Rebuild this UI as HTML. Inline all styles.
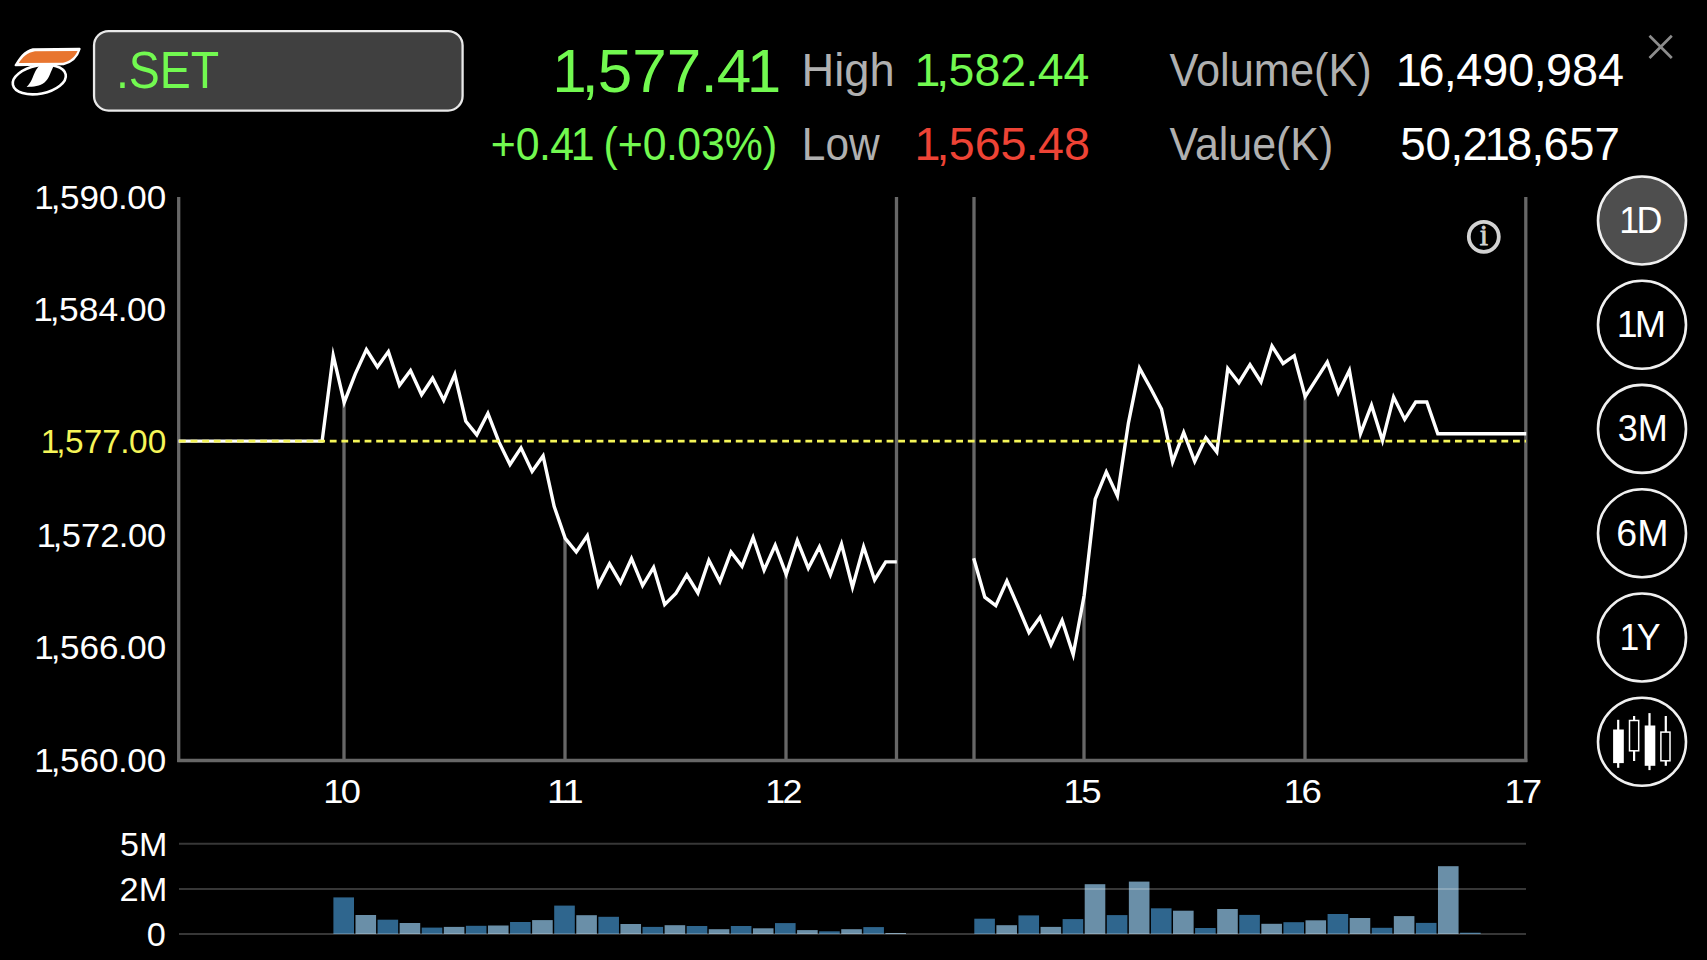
<!DOCTYPE html>
<html lang="en"><head><meta charset="utf-8"><title>.SET intraday chart</title>
<style>
html,body{margin:0;padding:0;background:#000;overflow:hidden}
body{width:1707px;height:960px;position:relative;font-family:"Liberation Sans",sans-serif}
svg{position:absolute;left:0;top:0;display:block}
text{font-family:"Liberation Sans",sans-serif}
text.serif{font-family:"Liberation Serif",serif}
</style></head><body>
<svg width="1707" height="960" viewBox="0 0 1707 960">
<rect width="1707" height="960" fill="#000"/>
<g id="logo">
<ellipse cx="39.3" cy="79.6" rx="26.9" ry="14.1" transform="rotate(-11 39.3 79.6)" fill="#000" stroke="#fff" stroke-width="2.6"/>
<path d="M40.2,65 L54.2,65 C50.5,71.5 49.5,78.5 44.5,82.5 C40,86 33.5,86.8 26.6,86.9 C31.5,82.5 32.8,76.5 35,72 C36.3,69.3 38,67 40.2,65 Z" fill="#fff"/>
<path d="M15.6,65.2 C20,58 24,51.5 33,49.2 L79.6,48.9 C77.5,56 72,62 63.5,64.2 Z" fill="#fff" stroke="#fff" stroke-width="2.1" stroke-linejoin="round"/>
<path d="M18.8,63.0 C22.5,57.3 27,52.6 35,51.3 L77.6,51.1 C75.1,56.7 70.6,61.2 63,62.8 Z" fill="#e8752f"/>
</g>
<rect x="94.05" y="31.05" width="368.55" height="79.5" rx="14.5" ry="14.5" fill="#404040" stroke="#e9e9e9" stroke-width="2.3"/>
<path d="M1649.5,35.8 L1671.8,58 M1671.8,35.8 L1649.5,58" stroke="#8c8c8c" stroke-width="2.7" fill="none"/>
<g id="bars">
<rect x="333.40" y="897.4" width="20.6" height="36.6" fill="#2f668e"/>
<rect x="355.48" y="915.0" width="20.6" height="19.0" fill="#6a8fa8"/>
<rect x="377.56" y="919.7" width="20.6" height="14.3" fill="#2f668e"/>
<rect x="399.64" y="923.0" width="20.6" height="11.0" fill="#6a8fa8"/>
<rect x="421.72" y="927.6" width="20.6" height="6.4" fill="#2f668e"/>
<rect x="443.80" y="926.9" width="20.6" height="7.1" fill="#6a8fa8"/>
<rect x="465.88" y="925.8" width="20.6" height="8.2" fill="#2f668e"/>
<rect x="487.96" y="925.5" width="20.6" height="8.5" fill="#6a8fa8"/>
<rect x="510.04" y="922.0" width="20.6" height="12.0" fill="#2f668e"/>
<rect x="532.12" y="920.1" width="20.6" height="13.9" fill="#6a8fa8"/>
<rect x="554.20" y="905.6" width="20.6" height="28.4" fill="#2f668e"/>
<rect x="576.28" y="915.2" width="20.6" height="18.8" fill="#6a8fa8"/>
<rect x="598.36" y="916.8" width="20.6" height="17.2" fill="#2f668e"/>
<rect x="620.44" y="924.0" width="20.6" height="10.0" fill="#6a8fa8"/>
<rect x="642.52" y="926.9" width="20.6" height="7.1" fill="#2f668e"/>
<rect x="664.60" y="925.2" width="20.6" height="8.8" fill="#6a8fa8"/>
<rect x="686.68" y="926.0" width="20.6" height="8.0" fill="#2f668e"/>
<rect x="708.76" y="929.2" width="20.6" height="4.8" fill="#6a8fa8"/>
<rect x="730.84" y="926.0" width="20.6" height="8.0" fill="#2f668e"/>
<rect x="752.92" y="928.3" width="20.6" height="5.7" fill="#6a8fa8"/>
<rect x="775.00" y="923.1" width="20.6" height="10.9" fill="#2f668e"/>
<rect x="797.08" y="930.1" width="20.6" height="3.9" fill="#6a8fa8"/>
<rect x="819.16" y="931.3" width="20.6" height="2.7" fill="#2f668e"/>
<rect x="841.24" y="929.2" width="20.6" height="4.8" fill="#6a8fa8"/>
<rect x="863.32" y="927.1" width="20.6" height="6.9" fill="#2f668e"/>
<rect x="885.40" y="933.0" width="20.6" height="1.0" fill="#6a8fa8"/>
<rect x="974.30" y="918.7" width="20.6" height="15.3" fill="#2f668e"/>
<rect x="996.38" y="925.2" width="20.6" height="8.8" fill="#6a8fa8"/>
<rect x="1018.46" y="915.4" width="20.6" height="18.6" fill="#2f668e"/>
<rect x="1040.54" y="926.9" width="20.6" height="7.1" fill="#6a8fa8"/>
<rect x="1062.62" y="919.1" width="20.6" height="14.9" fill="#2f668e"/>
<rect x="1084.70" y="884.2" width="20.6" height="49.8" fill="#6a8fa8"/>
<rect x="1106.78" y="915.1" width="20.6" height="18.9" fill="#2f668e"/>
<rect x="1128.86" y="881.6" width="20.6" height="52.4" fill="#6a8fa8"/>
<rect x="1150.94" y="908.3" width="20.6" height="25.7" fill="#2f668e"/>
<rect x="1173.02" y="910.7" width="20.6" height="23.3" fill="#6a8fa8"/>
<rect x="1195.10" y="928.0" width="20.6" height="6.0" fill="#2f668e"/>
<rect x="1217.18" y="909.0" width="20.6" height="25.0" fill="#6a8fa8"/>
<rect x="1239.26" y="914.9" width="20.6" height="19.1" fill="#2f668e"/>
<rect x="1261.34" y="923.8" width="20.6" height="10.2" fill="#6a8fa8"/>
<rect x="1283.42" y="922.2" width="20.6" height="11.8" fill="#2f668e"/>
<rect x="1305.50" y="920.3" width="20.6" height="13.7" fill="#6a8fa8"/>
<rect x="1327.58" y="914.0" width="20.6" height="20.0" fill="#2f668e"/>
<rect x="1349.66" y="918.0" width="20.6" height="16.0" fill="#6a8fa8"/>
<rect x="1371.74" y="927.8" width="20.6" height="6.2" fill="#2f668e"/>
<rect x="1393.82" y="916.1" width="20.6" height="17.9" fill="#6a8fa8"/>
<rect x="1415.90" y="922.9" width="20.6" height="11.1" fill="#2f668e"/>
<rect x="1437.98" y="866.2" width="20.6" height="67.8" fill="#6a8fa8"/>
<rect x="1460.06" y="932.7" width="20.6" height="1.3" fill="#2f668e"/>
</g>
<line x1="179" y1="843.8" x2="1526" y2="843.8" stroke="#fff" stroke-opacity="0.215" stroke-width="2"/>
<line x1="179" y1="889.0" x2="1526" y2="889.0" stroke="#fff" stroke-opacity="0.215" stroke-width="2"/>
<line x1="179" y1="934.0" x2="1526" y2="934.0" stroke="#fff" stroke-opacity="0.215" stroke-width="2"/>
<g stroke="#676767" stroke-width="3.3" fill="none">
<line x1="178.7" y1="197.0" x2="178.7" y2="762"/>
<line x1="177.2" y1="760.5" x2="1527.3" y2="760.5"/>
<line x1="1525.8" y1="197.0" x2="1525.8" y2="762"/>
<line x1="896.5" y1="197.0" x2="896.5" y2="760"/>
<line x1="974.0" y1="197.0" x2="974.0" y2="760"/>
<line x1="344.0" y1="401.3" x2="344.0" y2="760"/>
<line x1="565.0" y1="537.7" x2="565.0" y2="760"/>
<line x1="786.0" y1="573.8" x2="786.0" y2="760"/>
<line x1="1084.0" y1="596.4" x2="1084.0" y2="760"/>
<line x1="1305.0" y1="395.8" x2="1305.0" y2="760"/>
</g>
<polyline points="178.5,441.1 189.6,441.1 200.6,441.1 211.7,441.1 222.7,441.1 233.8,441.1 244.8,441.1 255.8,441.1 266.9,441.1 277.9,441.1 289.0,441.1 300.1,441.1 311.1,441.1 322.1,441.1 333.2,355.4 344.2,402.4 355.3,373.9 366.4,349.6 377.4,367.0 388.4,351.6 399.5,385.3 410.5,370.5 421.6,394.8 432.6,378.2 443.7,400.2 454.8,374.5 465.8,421.2 476.8,434.9 487.9,413.3 498.9,441.9 510.0,464.5 521.0,447.9 532.1,471.5 543.1,455.9 554.2,506.5 565.2,538.4 576.3,552.0 587.3,535.7 598.4,585.1 609.5,563.7 620.5,582.6 631.5,558.5 642.6,585.6 653.6,567.4 664.7,604.6 675.8,593.5 686.8,574.8 697.9,592.9 708.9,560.3 719.9,581.5 731.0,552.0 742.0,566.3 753.1,537.5 764.1,570.1 775.2,545.3 786.2,574.4 797.3,540.6 808.3,568.2 819.4,546.9 830.4,574.7 841.5,544.0 852.5,587.2 863.6,546.8 874.6,580.0 885.7,561.9 896.8,561.9" fill="none" stroke="#fff" stroke-width="3.4" stroke-linejoin="miter" stroke-miterlimit="12"/>
<polyline points="973.7,558.3 984.8,597.2 995.8,605.7 1006.9,580.9 1017.9,606.3 1029.0,632.5 1040.0,617.3 1051.0,644.8 1062.1,620.5 1073.2,654.6 1084.2,595.3 1095.2,499.2 1106.3,471.9 1117.4,495.9 1128.4,423.1 1139.5,368.2 1150.5,388.0 1161.5,409.0 1172.6,461.9 1183.7,432.5 1194.7,461.3 1205.8,437.7 1216.8,451.9 1227.8,368.5 1238.9,382.7 1250.0,364.6 1261.0,381.9 1272.0,346.0 1283.1,363.5 1294.2,355.7 1305.2,396.6 1316.2,379.4 1327.3,362.0 1338.3,392.9 1349.4,370.5 1360.5,433.6 1371.5,405.2 1382.5,440.6 1393.6,397.0 1404.7,419.4 1415.7,402.0 1426.8,402.0 1437.8,433.7 1448.8,433.7 1459.9,433.7 1471.0,433.7 1482.0,433.7 1493.1,433.7 1504.1,433.7 1515.2,433.7 1526.2,433.7" fill="none" stroke="#fff" stroke-width="3.4" stroke-linejoin="miter" stroke-miterlimit="12"/>
<line x1="179" y1="441.1" x2="1526" y2="441.1" stroke="#f5f558" stroke-width="2.6" stroke-dasharray="6.8 4.8"/>
<circle cx="1483.8" cy="236.8" r="15" fill="none" stroke="#d2d2d2" stroke-width="3.8"/>
<text class="serif" x="1483.8" y="245.3" font-size="29.5" text-anchor="middle" fill="#d2d2d2" stroke="#d2d2d2" stroke-width="0.8">i</text>
<circle cx="1642" cy="220.5" r="44" fill="#4e4e4e" stroke="#f0f0f0" stroke-width="2.6"/>
<circle cx="1642" cy="324.7" r="44" fill="#000" stroke="#f0f0f0" stroke-width="2.6"/>
<circle cx="1642" cy="428.9" r="44" fill="#000" stroke="#f0f0f0" stroke-width="2.6"/>
<circle cx="1642" cy="533.2" r="44" fill="#000" stroke="#f0f0f0" stroke-width="2.6"/>
<circle cx="1642" cy="637.5" r="44" fill="#000" stroke="#f0f0f0" stroke-width="2.6"/>
<circle cx="1642" cy="741.8" r="44" fill="#000" stroke="#f0f0f0" stroke-width="2.6"/>
<g id="candles" fill="#fff" stroke="none">
<rect x="1617.1" y="719.8" width="2.2" height="48"/><rect x="1613.1" y="729.5" width="10.7" height="33.6"/>
<rect x="1633" y="716" width="2.2" height="4.5"/><rect x="1633" y="751" width="2.2" height="10"/>
<rect x="1648.4" y="713.1" width="2.2" height="57"/><rect x="1644.7" y="725.5" width="10.6" height="40.3"/>
<rect x="1664.7" y="716" width="2.2" height="16"/><rect x="1664.7" y="761" width="2.2" height="4.8"/>
</g>
<rect x="1629.5" y="720.5" width="9.2" height="30.3" fill="none" stroke="#fff" stroke-width="1.5"/>
<rect x="1660.9" y="732.1" width="9.1" height="28.7" fill="none" stroke="#fff" stroke-width="1.5"/>
<text id="t_set" transform="translate(115.96,88.4) scale(0.8982,1)" font-size="51.75" fill="#72f950">.SET</text>
<text id="t_big" transform="translate(556.85,92.0) scale(1.0032,1)" x="-4.51 24.49 40.79 75.19 109.59 143.09 159.39 189.28" font-size="61.85" fill="#72f950">1,577.41</text>
<text id="t_chg" transform="translate(490.71,160.2) scale(0.9381,1)" x="0.0 26.65 51.38 63.4 85.46 107.52 120.2 135.4 162.05 186.78 198.81 224.19 249.57 290.16" font-size="45.64" fill="#72f950">+0.41 (+0.03%)</text>
<text id="t_high" transform="translate(801.58,86.25) scale(0.9925,1)" font-size="45.64" fill="#b0b0b0">High</text>
<text id="t_low" transform="translate(801.82,160.2) scale(0.9302,1)" font-size="45.64" fill="#b0b0b0">Low</text>
<text id="t_highv" transform="translate(917.94,86.25) scale(1.0186,1)" x="-3.32 18.08 30.1 55.49 80.87 105.6 117.62 143.01" font-size="45.64" fill="#72f950">1,582.44</text>
<text id="t_lowv" transform="translate(917.93,160.2) scale(1.0220,1)" x="-3.32 18.08 30.1 55.49 80.87 105.6 117.62 143.01" font-size="45.64" fill="#ee4335">1,565.48</text>
<text id="t_vol" transform="translate(1169.51,86.25) scale(0.9494,1)" font-size="45.64" fill="#b0b0b0">Volume(K)</text>
<text id="t_val" transform="translate(1169.51,160.2) scale(0.9402,1)" font-size="45.64" fill="#b0b0b0">Value(K)</text>
<text id="t_volv" transform="translate(1399.22,86.25) scale(1.0264,1)" x="-3.32 18.73 43.46 55.49 80.87 106.25 130.98 143.01 168.39 193.78" font-size="45.64" fill="#fff">16,490,984</text>
<text id="t_valv" transform="translate(1400.17,160.2) scale(1.0026,1)" x="0.0 25.39 50.11 62.14 84.2 106.25 130.98 143.01 168.39 193.78" font-size="45.64" fill="#fff">50,218,657</text>
<text id="t_y590" transform="translate(36.82,208.85) scale(1.0427,1)" x="-2.45 13.33 22.19 40.91 59.62 77.85 86.72 105.43" font-size="33.65" fill="#fff">1,590.00</text>
<text id="t_y584" transform="translate(35.81,321.45) scale(1.0510,1)" x="-2.45 13.33 22.19 40.91 59.62 77.85 86.72 105.43" font-size="33.65" fill="#fff">1,584.00</text>
<text id="t_y577" transform="translate(43.11,452.75) scale(0.9915,1)" x="-2.45 13.33 22.19 40.91 59.62 77.85 86.72 105.43" font-size="33.65" fill="#f5f558">1,577.00</text>
<text id="t_y572" transform="translate(39.15,546.65) scale(1.0237,1)" x="-2.45 13.33 22.19 40.91 59.62 77.85 86.72 105.43" font-size="33.65" fill="#fff">1,572.00</text>
<text id="t_y566" transform="translate(36.92,659.25) scale(1.0419,1)" x="-2.45 13.33 22.19 40.91 59.62 77.85 86.72 105.43" font-size="33.65" fill="#fff">1,566.00</text>
<text id="t_y560" transform="translate(36.92,771.85) scale(1.0419,1)" x="-2.45 13.33 22.19 40.91 59.62 77.85 86.72 105.43" font-size="33.65" fill="#fff">1,560.00</text>
<text id="t_x10" transform="translate(325.86,803.0) scale(1.0778,1)" x="-2.45 13.81" font-size="33.65" fill="#fff">10</text>
<text id="t_x11" transform="translate(549.67,803.0) scale(1.1310,1)" x="-2.45 11.36" font-size="33.65" fill="#fff">11</text>
<text id="t_x12" transform="translate(767.78,803.0) scale(1.0677,1)" x="-2.45 13.81" font-size="33.65" fill="#fff">12</text>
<text id="t_x15" transform="translate(1066.14,803.0) scale(1.0882,1)" x="-2.45 13.81" font-size="33.65" fill="#fff">15</text>
<text id="t_x16" transform="translate(1286.44,803.0) scale(1.0872,1)" x="-2.45 13.81" font-size="33.65" fill="#fff">16</text>
<text id="t_x17" transform="translate(1507.17,803.0) scale(1.0712,1)" x="-2.45 13.81" font-size="33.65" fill="#fff">17</text>
<text id="t_v5" transform="translate(119.93,855.9) scale(1.0111,1)" x="0.0 18.76" font-size="33.72" fill="#fff">5M</text>
<text id="t_v2" transform="translate(119.57,900.9) scale(1.0193,1)" x="0.0 18.76" font-size="33.72" fill="#fff">2M</text>
<text id="t_v0" transform="translate(146.66,945.9) scale(1.0174,1)" x="0.0" font-size="33.72" fill="#fff">0</text>
<text id="t_b1D" transform="translate(1621.78,232.9) scale(0.9873,1)" x="-2.65 14.92" font-size="36.34" fill="#fff">1D</text>
<text id="t_b1M" transform="translate(1619.4,337.1) scale(1.0331,1)" x="-2.65 14.92" font-size="36.34" fill="#fff">1M</text>
<text id="t_b3M" transform="translate(1617.73,441.3) scale(0.9931,1)" x="0.0 20.21" font-size="36.34" fill="#fff">3M</text>
<text id="t_b6M" transform="translate(1616.29,545.6) scale(1.0338,1)" x="0.0 20.21" font-size="36.34" fill="#fff">6M</text>
<text id="t_b1Y" transform="translate(1622.19,649.9) scale(0.9805,1)" x="-2.65 14.92" font-size="36.34" fill="#fff">1Y</text>
</svg>
</body></html>
